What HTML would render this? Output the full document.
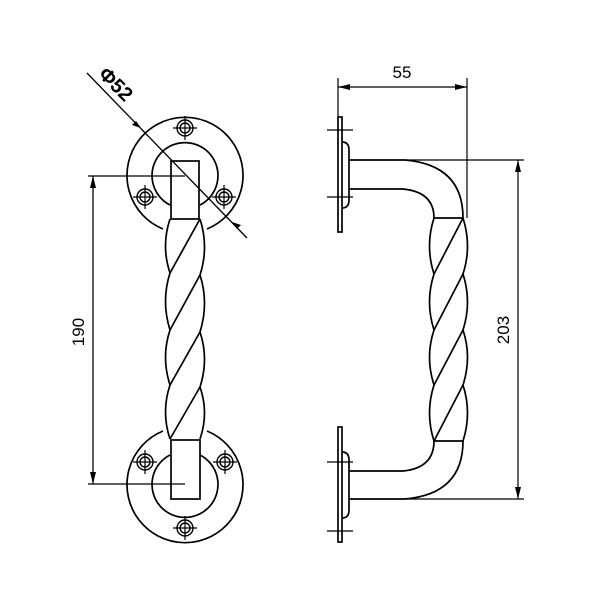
<!DOCTYPE html>
<html><head><style>html,body{margin:0;padding:0;background:#fff}svg{display:block}</style></head><body>
<svg width="600" height="600" viewBox="0 0 600 600" xmlns="http://www.w3.org/2000/svg">
<defs>
<g id="hole"><circle r="8" fill="none" stroke="#000" stroke-width="1.4"/><circle r="5" fill="none" stroke="#000" stroke-width="1.4"/><path d="M-12 0H12M0 -12V12" stroke="#000" stroke-width="1.2"/></g>
<g id="twist" fill="none" stroke="#000" stroke-width="1.7">
<path d="M170 219Q161 246 170 273Q161 301 170 330Q161 357 170 385Q161 412 170 439"/>
<path d="M200 219Q209 247 200 275Q209 303 200 332Q209 359 200 387Q209 413 200 439"/>
<path d="M200 219L170 273M200 275L170 330M200 332L170 385M200 387L170 439"/>
</g>
</defs>
<g fill="none" stroke="#000" stroke-width="1.7">
<path d="M163 229A58 58 0 1 1 207 229"/>
<path d="M170 205A33 33 0 1 1 200 205"/>
<rect x="171" y="161" width="28" height="58"/>
<path d="M163 431A58 58 0 1 0 207 431"/>
<path d="M170 455A33 33 0 1 0 200 455"/>
<rect x="171" y="440" width="29" height="59"/>
</g>
<use href="#hole" x="185" y="128"/><use href="#hole" x="145" y="197"/><use href="#hole" x="224" y="197"/>
<use href="#hole" x="145" y="462"/><use href="#hole" x="225" y="462"/><use href="#hole" x="185" y="528"/>
<use href="#twist"/>
<g stroke="#000" stroke-width="1.3" fill="none">
<path d="M88 176H185M88 484H185M93 176V484"/>
<path d="M87 73L247 238"/>
</g>
<path d="M93 176l-3 12h6z M93 484l-3 -12h6z" fill="#000"/>
<path d="M141 128l-9 -3 4 -4z M232 222l9 3 -4 4z" fill="#000"/>
<text x="78" y="332" font-family="Liberation Sans, sans-serif" font-size="17" text-anchor="middle" transform="rotate(-90 78 332)" dy="6">190</text>
<text x="116" y="84" font-family="Liberation Sans, sans-serif" font-size="20" font-weight="bold" text-anchor="middle" transform="rotate(45 116 84)" dy="7">Φ52</text>
<g fill="none" stroke="#000" stroke-width="1.7">
<rect x="338" y="117" width="4" height="115"/>
<path d="M342 142Q349 142 349 150V200Q349 208 342 208"/>
<rect x="338" y="427" width="4" height="115"/>
<path d="M342 452Q349 452 349 460V510Q349 518 342 518"/>
<path d="M349 160H405Q463 165 463 218"/>
<path d="M349 189H403Q434 192 434 218"/>
<path d="M434 218H463"/>
<path d="M349 471H403Q434 468 434 441"/>
<path d="M349 499H405Q463 494 463 441"/>
<path d="M434 441H463"/>
<path d="M434 218Q425 246 434 274Q425 302 434 330Q425 357 434 385Q425 413 434 441"/>
<path d="M463 218Q472 246 463 274Q472 302 463 330Q472 357 463 385Q472 413 463 441"/>
<path d="M463 218L434 274M463 274L434 330M463 330L434 385M463 385L434 441"/>
</g>
<g stroke="#000" stroke-width="1.2" fill="none">
<path d="M327 130H353M327 197H353M327 462H353M327 531H353"/>
<path d="M338 78V117M467 78V218M338 87H467"/>
<path d="M405 160H524M405 499H524M518 160V499"/>
</g>
<path d="M338 87l12 -3v6z M467 87l-12 -3v6z M518 160l-3 12h6z M518 499l-3 -12h6z" fill="#000"/>
<text x="402" y="78" font-family="Liberation Sans, sans-serif" font-size="17" text-anchor="middle">55</text>
<text x="503" y="330" font-family="Liberation Sans, sans-serif" font-size="17" text-anchor="middle" transform="rotate(-90 503 330)" dy="6">203</text>
</svg>
</body></html>
